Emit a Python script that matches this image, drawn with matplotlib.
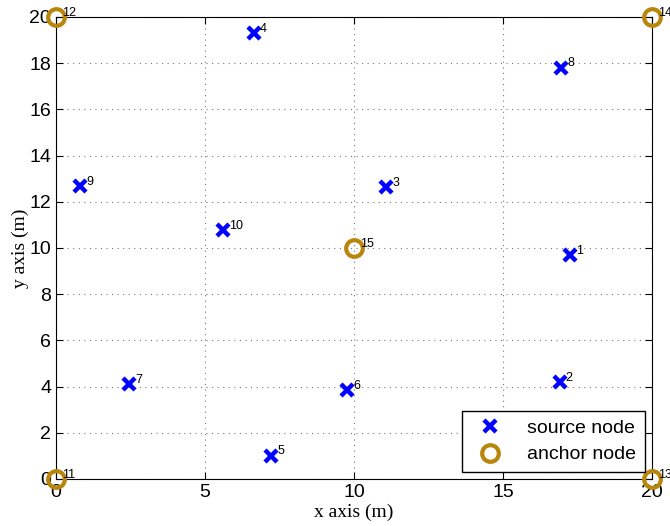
import matplotlib
matplotlib.use("Agg")
import matplotlib.pyplot as plt

src_x = [17.25, 16.9, 11.07, 6.64, 7.21, 9.77, 2.45, 16.95, 0.8, 5.6]
src_y = [9.70, 4.2, 12.64, 19.3, 1.0, 3.85, 4.11, 17.8, 12.68, 10.78]
src_id = [1, 2, 3, 4, 5, 6, 7, 8, 9, 10]
anc_x = [0, 0, 20, 20, 10]
anc_y = [0, 20, 0, 20, 10]
anc_id = [11, 12, 13, 14, 15]

fig = plt.figure(figsize=(6.7, 5.26), dpi=100)
ax = fig.add_axes([0.0836, 0.0894, 0.8894, 0.8783])

ax.plot(src_x, src_y, linestyle='none', marker='x', color='#0000ff', markersize=8,
        markeredgewidth=3.2, label='source node', clip_on=False, zorder=3)
ax.plot(anc_x, anc_y, linestyle='none', marker='o', markerfacecolor='none',
        markeredgecolor='#b8860b', markersize=12, markeredgewidth=3,
        label='anchor node', clip_on=False, zorder=3)

for x, y, i in zip(src_x, src_y, src_id):
    ax.annotate(str(i), (x, y), xytext=(4.5, 1), textcoords='offset points',
                fontsize=9, family='Liberation Sans', annotation_clip=False)
for x, y, i in zip(anc_x, anc_y, anc_id):
    ax.annotate(str(i), (x, y), xytext=(4.5, 1), textcoords='offset points',
                fontsize=9, family='Liberation Sans', annotation_clip=False)

ax.set_xlim(0, 20)
ax.set_ylim(0, 20)
ax.set_xticks([0, 5, 10, 15, 20])
ax.set_yticks(range(0, 21, 2))
ax.tick_params(direction='in', top=True, right=True, labelsize=14, length=5)
for lab in ax.get_xticklabels() + ax.get_yticklabels():
    lab.set_family('Liberation Sans')
ax.grid(True, linestyle=(0, (1, 4)), color='#777777', linewidth=0.8)
ax.set_xlabel('x axis (m)', family='Liberation Serif', fontsize=14, labelpad=2)
ax.set_ylabel('y axis (m)', family='Liberation Serif', fontsize=14, labelpad=0)

leg = ax.legend(loc='lower right', fancybox=False, edgecolor='black',
                prop={'family': 'Liberation Sans', 'size': 14}, borderaxespad=0.35,
                handletextpad=0.9, borderpad=0.45, labelspacing=0.45, framealpha=1)
leg.get_frame().set_linewidth(1)

fig.savefig('out.png', dpi=100)
